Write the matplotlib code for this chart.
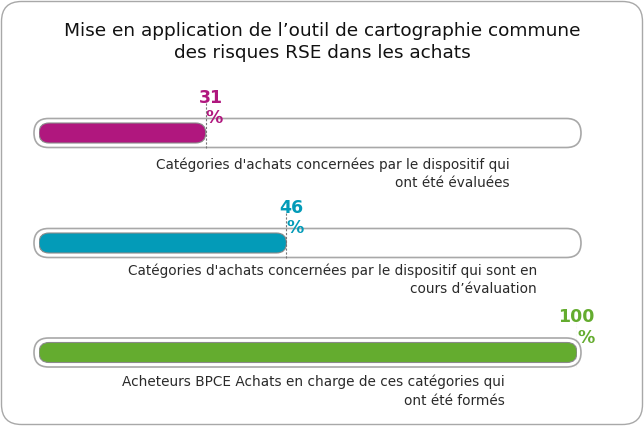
import matplotlib.pyplot as plt
from matplotlib.patches import FancyBboxPatch


# =========================================================
# DATOS
# =========================================================

titulo = (
    "Mise en application de l’outil de cartographie commune\n"
    "des risques RSE dans les achats"
)

valores = [31, 46, 100]

etiquetas = [
    ["Catégories d'achats concernées par le dispositif qui",
     "ont été évaluées"],
    ["Catégories d'achats concernées par le dispositif qui sont en",
     "cours d’évaluation"],
    ["Acheteurs BPCE Achats en charge de ces catégories qui",
     "ont été formés"],
]

colores = ["#b0177e", "#039bb8", "#64ac2f"]


# =========================================================
# FIGURA
# =========================================================

W, H = 644, 426
plt.rcParams["font.family"] = ["DejaVu Sans"]

fig = plt.figure(figsize=(W / 100, H / 100), dpi=100)

# fondo en pixeles
fondo = fig.add_axes([0, 0, 1, 1])
fondo.set_xlim(0, W)
fondo.set_ylim(H, 0)
fondo.axis("off")

fondo.add_patch(
    FancyBboxPatch(
        (1.5, 1.5), W - 3, H - 3,
        boxstyle="round,pad=0,rounding_size=20",
        facecolor="white",
        edgecolor="#a8a8a8",
        linewidth=1.0
    )
)

fondo.text(
    W / 2, 42,
    titulo,
    ha="center",
    va="center",
    fontsize=13.3,
    color="#111111",
    linespacing=1.3
)

# eje de las barras: 0..100 entre x=39 y x=577
x0, x1 = 39, 577
escala = (x1 - x0) / 100
barras = fig.add_axes([x0 / W, 0, (x1 - x0) / W, 1])
barras.set_xlim(0, 100)
barras.set_ylim(H, 0)
barras.axis("off")
barras.patch.set_alpha(0)

centros = [133, 243, 352.5]
alto_pista = 29
alto_barra = 20
r = alto_barra / 2

for i, valor in enumerate(valores):

    yc = centros[i]

    # pista
    fondo.add_patch(
        FancyBboxPatch(
            (34, yc - alto_pista / 2), 547, alto_pista,
            boxstyle=f"round,pad=0,rounding_size={alto_pista / 2}",
            facecolor="white",
            edgecolor="#a8a8a8",
            linewidth=1.2
        )
    )

    # barra
    barras.add_patch(
        FancyBboxPatch(
            (0, yc - alto_barra / 2), valor, alto_barra,
            boxstyle=f"round,pad=0,rounding_size={r / escala}",
            mutation_aspect=escala,
            facecolor=colores[i],
            edgecolor="#8a8a8a",
            linewidth=0.8
        )
    )

    # linea punteada
    barras.plot(
        [valor, valor],
        [yc - alto_pista / 2 - 16, yc + alto_pista / 2],
        color="#777777",
        linewidth=0.8,
        linestyle=(0, (2, 1.5)),
        zorder=5
    )

    # porcentaje
    barras.annotate(
        f"{valor}\n%",
        xy=(valor, yc - 25),
        xytext=(12.5, 0),
        textcoords="offset points",
        ha="right",
        va="center",
        multialignment="right",
        fontsize=12.5,
        fontweight="bold",
        color=colores[i],
        linespacing=1.2
    )

fondo.text(510, 165, etiquetas[0][0], ha="right", va="center",
           fontsize=9.8, color="#2a2a2a")
fondo.text(510, 183, etiquetas[0][1], ha="right", va="center",
           fontsize=9.8, color="#2a2a2a")

fondo.text(537, 271, etiquetas[1][0], ha="right", va="center",
           fontsize=9.8, color="#2a2a2a")
fondo.text(537, 289, etiquetas[1][1], ha="right", va="center",
           fontsize=9.8, color="#2a2a2a")

fondo.text(505, 382, etiquetas[2][0], ha="right", va="center",
           fontsize=9.8, color="#2a2a2a")
fondo.text(505, 401, etiquetas[2][1], ha="right", va="center",
           fontsize=9.8, color="#2a2a2a")

plt.savefig("out.png", dpi=100)
plt.close()
